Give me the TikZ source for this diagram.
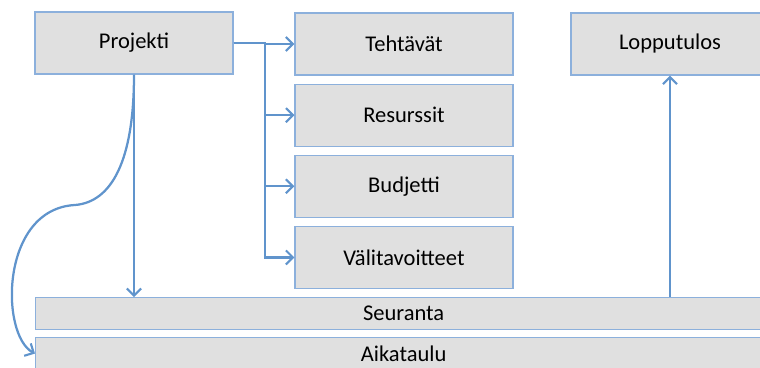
\documentclass[tikz,border=0pt]{standalone}
\usepackage{fontspec}
\setmainfont{Carlito}
\usepackage{tikz}
\usetikzlibrary{arrows.meta,positioning}
\definecolor{boxfill}{HTML}{E0E0E0}
\definecolor{boxline}{HTML}{8CB0DC}
\definecolor{linkblue}{HTML}{6094CC}
\tikzset{%
	block/.style = {draw=boxline, fill=boxfill, line width=0.8pt, rectangle, inner sep=0pt, minimum width=4.95cm, minimum height=1.55cm, text centered, font=\fontsize{16}{19}\selectfont},
	band/.style  = {block, minimum width=18.4cm, minimum height=0.8cm},
	link/.style  = {draw=linkblue, line width=1.6pt, -{Straight Barb[length=5pt,width=10pt,line width=1.5pt]}},
}
\begin{document}
\begin{tikzpicture}[x=0.025cm,y=-0.025cm]
		\useasboundingbox (0,0) rectangle (760,367);
		\clip (0,0) rectangle (760,367);
		
		\node[block] (proj) at (134,43) {Projekti};
		\node[block, minimum width=5.45cm] (teht) at (404,44) {Tehtävät};
		\node[block, minimum width=5.45cm, below=0.2cm of teht] (res) {Resurssit};
		\node[block, minimum width=5.45cm, below=0.2cm of res] (bud) {Budjetti};
		\node[block, minimum width=5.45cm, below=0.2cm of bud] (vali) {Välitavoitteet};
		\node[block] (loppu) at (670,44) {Lopputulos};
		
		\node[band, anchor=north west] (seur) at (35,297) {Seuranta};
		\node[band, anchor=north west] (aika) at (35,337) {Aikataulu};
		
		\coordinate (bus) at (265,43);
		\foreach \n in {teht,res,bud,vali} \draw[link] (proj.east) -- (bus) |- (\n.west);
		
		\draw[link] (proj.south) -- (proj.south |- seur.north);
		\draw[link] (seur.north -| loppu.south) -- (loppu.south);
		
		\draw[link] (proj.south) .. controls (134,160) and (112,202) .. (75,205) .. controls (0,209) and (0,335) .. (aika.west);
	\end{tikzpicture}
\end{document}
